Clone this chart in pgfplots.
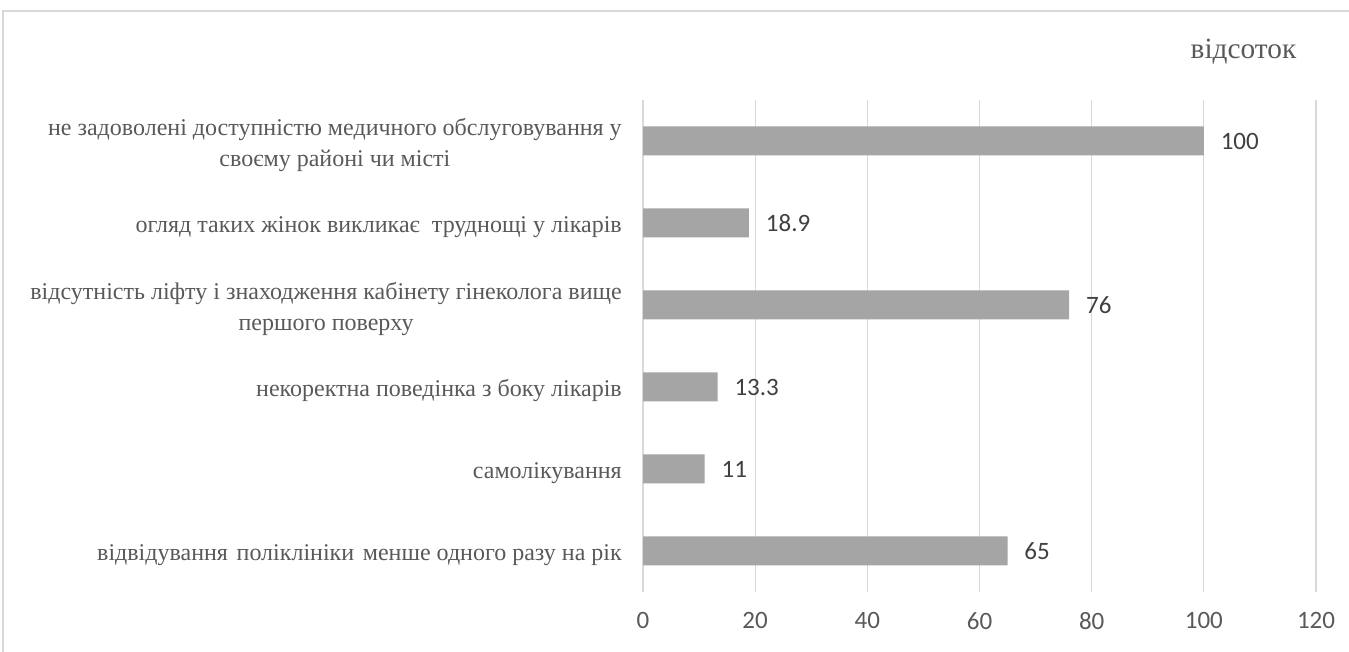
\documentclass[border=0pt]{standalone}
\usepackage{fontspec}
\setmainfont{Liberation Serif}
\newfontfamily\calibri{Carlito}
\usepackage{pgfplots}
\pgfplotsset{compat=1.18}
\definecolor{bargray}{HTML}{A5A5A5}
\definecolor{gridgray}{HTML}{D9D9D9}
\definecolor{txtgray}{HTML}{595959}
\definecolor{valgray}{HTML}{404040}
\begin{document}
\begin{tikzpicture}
\useasboundingbox (0,0) rectangle (1011.75pt,489pt);
\draw[gridgray, line width=1.1pt] (2.25pt,-10pt) -- (2.25pt,480.75pt) -- (1030pt,480.75pt);
\node[text=txtgray, font={\fontsize{22}{26}\selectfont}] at (932.6pt,450pt) {відсоток};
\begin{axis}[
  at={(482.25pt,45pt)}, anchor=south west,
  scale only axis, width=504.75pt, height=369pt,
  xbar, bar width=21.75pt,
  xmin=0, xmax=120, ymin=-0.5, ymax=5.5,
  xtick={0,20,...,120},
  ytick={0,1,2,3,4,5},
  yticklabels={
    {відвідування\hspace{2pt} поліклініки\hspace{2pt} менше одного разу на рік},
    {самолікування},
    {некоректна поведінка з боку лікарів},
    {відсутність ліфту і знаходження кабінету гінеколога вище\\першого поверху},
    {огляд таких жінок викликає\ \ труднощі у лікарів},
    {не задоволені доступністю медичного обслуговування у\\своєму районі чи місті}},
  axis line style={draw=none},
  major tick length=0pt,
  xmajorgrids,
  grid style={gridgray, line width=0.9pt},
  /pgf/number format/assume math mode=true,
  xticklabel style={font={\calibri\fontsize{18.75}{22}\selectfont}, text=txtgray, inner sep=0pt, yshift=-15pt},
  yticklabel style={font={\fontsize{18}{23}\selectfont}, text=txtgray, align=center, anchor=east, inner sep=0pt, xshift=-15.75pt, yshift=-3pt},
  nodes near coords,
  nodes near coords align=horizontal,
  every node near coord/.append style={font={\calibri\fontsize{18.75}{22}\selectfont}, text=valgray, anchor=west, inner sep=0pt, xshift=12.5pt},
  clip=false,
]
\addplot[fill=bargray, draw=none] coordinates {
  (65,0) (11,1) (13.3,2) (76,3) (18.9,4) (100,5)
};
\end{axis}
\end{tikzpicture}
\end{document}
